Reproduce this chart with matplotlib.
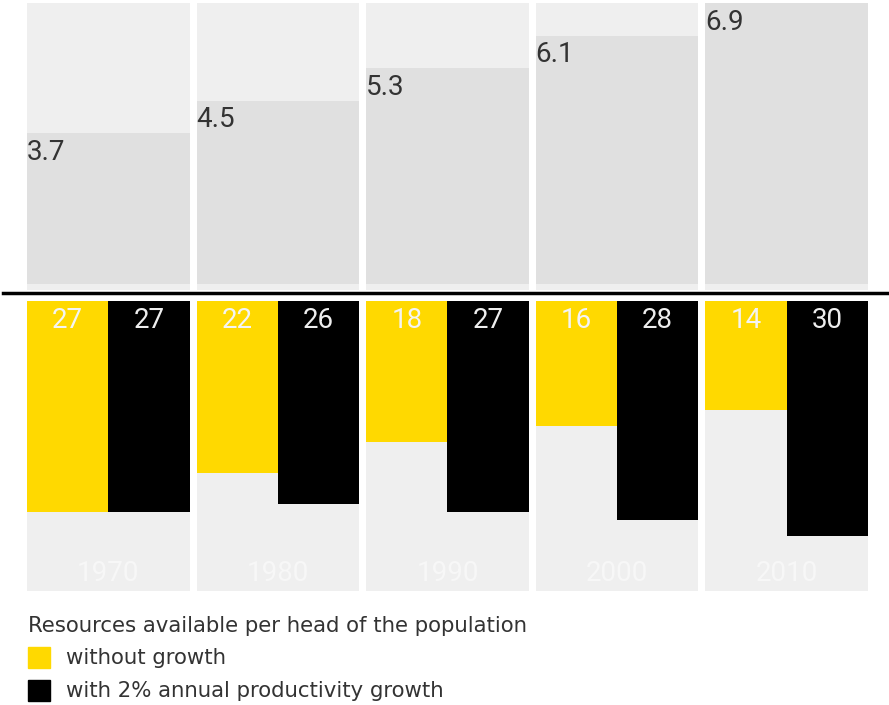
import matplotlib.pyplot as plt
from matplotlib.patches import Rectangle
from matplotlib.lines import Line2D

# values
years = ['1970', '1980', '1990', '2000', '2010']
population = [3.7, 4.5, 5.3, 6.1, 6.9]
without_growth = [27, 22, 18, 16, 14]
with_growth = [27, 26, 27, 28, 30]

plt.rcParams['font.family'] = ['Roboto', 'DejaVu Sans']

W, H = 889, 705
fig = plt.figure(figsize=(W / 100, H / 100), dpi=100)

def frac(x0, y0, x1, y1):
    # pixel box (top-left origin) -> figure fraction rect
    return [x0 / W, 1 - y1 / H, (x1 - x0) / W, (y1 - y0) / H]

w = 0.96
xs = list(range(len(years)))
col_bg = '#efefef'

# top panel: population
ax1 = fig.add_axes(frac(27, 3, 868, 290))
top_max = max(population)
ax1.bar(xs, [top_max + 0.15] * len(xs), bottom=-0.15, width=w, color=col_bg)
ax1.bar(xs, population, width=w, color='#e0e0e0')
for x, v in zip(xs, population):
    ax1.annotate(f'{v}', (x - w / 2, v), xytext=(0, -4), textcoords='offset points',
                 ha='left', va='top', fontsize=20, color='#333333')
ax1.set_xlim(-w / 2, xs[-1] + w / 2)
ax1.set_ylim(-0.15, top_max)
ax1.axis('off')

# separator line
fig.add_artist(Line2D([3 / W, 1], [1 - 293 / H] * 2, color='black', lw=2.5))

# bottom panel: resources per head, bars hang down
ax2 = fig.add_axes(frac(27, 301, 868, 591))
bot_max = 37.1
ax2.bar(xs, [bot_max] * len(xs), width=w, color=col_bg)
xy = [x - w / 4 for x in xs]
xb = [x + w / 4 for x in xs]
ax2.bar(xy, without_growth, width=w / 2, color='#ffd900')
ax2.bar(xb, with_growth, width=w / 2, color='black')
for x, v in zip(xy, without_growth):
    ax2.annotate(f'{v}', (x, 0), xytext=(0, -4), textcoords='offset points',
                 ha='center', va='top', fontsize=20, color='#f4f4f4')
for x, v in zip(xb, with_growth):
    ax2.annotate(f'{v}', (x, 0), xytext=(0, -4), textcoords='offset points',
                 ha='center', va='top', fontsize=20, color='#eeeeee')
for x, y in zip(xs, years):
    ax2.annotate(y, (x, bot_max), xytext=(0, 3), textcoords='offset points',
                 ha='center', va='bottom', fontsize=20, color='#f7f7f7')
ax2.set_xlim(-w / 2, xs[-1] + w / 2)
ax2.set_ylim(bot_max, 0)
ax2.axis('off')

# legend
leg_font = ['DejaVu Sans']
fig.text(28 / W, 1 - 626 / H, 'Resources available per head of the population',
         fontsize=15.3, color='#333333', va='center', ha='left', family=leg_font)
for y0, color, label in [(647, '#ffd900', 'without growth'),
                         (680, 'black', 'with 2% annual productivity growth')]:
    fig.add_artist(Rectangle((28 / W, 1 - (y0 + 21) / H), 22 / W, 21 / H,
                             transform=fig.transFigure, color=color))
    fig.text(66 / W, 1 - (y0 + 11) / H, label, fontsize=15.3, color='#333333',
             va='center', ha='left', family=leg_font)

fig.savefig('out.png', dpi=100)
